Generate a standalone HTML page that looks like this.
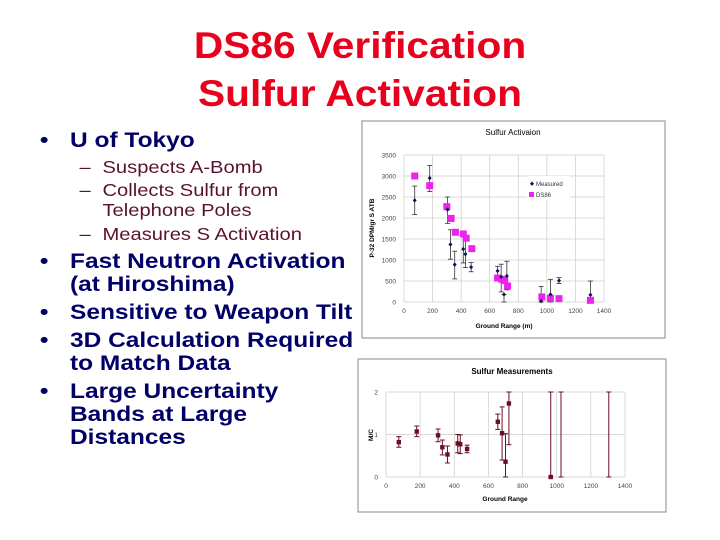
<!DOCTYPE html>
<html><head><meta charset="utf-8"><style>
html,body{margin:0;padding:0;background:#fff;}
svg{display:block;font-family:"Liberation Sans",Arial,sans-serif;}
</style></head><body>
<svg id="page" width="720" height="540" viewBox="0 0 720 540">
<g font-weight="bold" font-size="37" fill="#e8001c" text-anchor="middle" transform="scale(1.1 1)">
<text x="327.3" y="58">DS86 Verification</text>
<text x="327.3" y="106">Sulfur Activation</text>
</g>
<g font-weight="bold" font-size="21.5" fill="#000066" transform="scale(1.14 1)">
<text x="35" y="147">•</text><text x="61.4" y="147">U of Tokyo</text>
<text x="35" y="268">•</text><text x="61.4" y="268">Fast Neutron Activation</text>
<text x="61.4" y="291">(at Hiroshima)</text>
<text x="35" y="319">•</text><text x="61.4" y="319">Sensitive to Weapon Tilt</text>
<text x="35" y="347">•</text><text x="61.4" y="347">3D Calculation Required</text>
<text x="61.4" y="370">to Match Data</text>
<text x="35" y="398">•</text><text x="61.4" y="398">Large Uncertainty</text>
<text x="61.4" y="421">Bands at Large</text>
<text x="61.4" y="444">Distances</text>
</g>
<g font-size="18" fill="#5a1030" transform="scale(1.12 1)">
<text x="71" y="173">–</text><text x="91.5" y="173">Suspects A-Bomb</text>
<text x="71" y="196">–</text><text x="91.5" y="196">Collects Sulfur from</text>
<text x="91.5" y="216">Telephone Poles</text>
<text x="71" y="240">–</text><text x="91.5" y="240">Measures S Activation</text>
</g>
<g id="c1"></g>
<g id="c2"></g>
</svg>
<script>
// Chart 1 data
const c1X = [75,180,305,325,355,415,430,470,655,680,700,720,960,1025,1085,1305];
const c1Meas = [2420,2950,2200,1370,890,1260,1140,830,740,600,180,620,20,180,510,170];
const c1Lo = [2080,2630,1870,1020,550,930,820,720,640,240,0,290,0,0,440,0];
const c1Hi = [2760,3250,2500,1720,1210,1610,1460,940,850,900,180,970,370,540,580,500];
const c1DsX = [75,180,300,330,360,415,435,475,655,685,705,725,965,1025,1085,1305];
const c1Ds = [3000,2770,2270,1990,1660,1620,1520,1270,570,540,510,380,120,90,80,40];
const c1XTicks = [0,200,400,600,800,1000,1200,1400];
const c1YTicks = [0,500,1000,1500,2000,2500,3000,3500];
// Chart 2 data
const c2X = [75,180,305,330,360,420,435,475,655,680,700,720,965,1025,1305];
const c2Val = [0.82,1.07,0.98,0.70,0.53,0.79,0.77,0.66,1.30,1.03,0.36,1.73,0,null,null];
const c2Lo = [0.70,0.95,0.83,0.52,0.33,0.57,0.55,0.57,1.12,0.40,0,0.76,0,0,0];
const c2Hi = [0.95,1.20,1.13,0.87,0.73,1.00,0.99,0.75,1.48,1.65,1.02,2,2,2,2];
const c2XTicks = [0,200,400,600,800,1000,1200,1400];
const c2YTicks = [0,1,2];

const NS="http://www.w3.org/2000/svg";
function mk(p,t,a){const e=document.createElementNS(NS,t);for(const k in a)e.setAttribute(k,a[k]);p.appendChild(e);return e;}

// ---- Chart 1
(function(){
const g=document.getElementById('c1');
const X0=404,X1=604,Y0=302,Y1=155;
const sx=v=>X0+(v/1400)*(X1-X0), sy=v=>Y0-(v/3500)*(Y0-Y1);
let r=mk(g,'rect',{x:362,y:121,width:303,height:217,fill:'#fff',stroke:'#888','stroke-width':1});


let t=mk(g,'text',{x:513,y:135,'font-size':8,'text-anchor':'middle',fill:'#000'});t.textContent='Sulfur Activaion';


c1YTicks.forEach(v=>{const l=mk(g,'line',{x1:X0,x2:X1,y1:sy(v),y2:sy(v),stroke:'#ccc','stroke-width':0.7});


const tx=mk(g,'text',{x:X0-8,y:sy(v)+2.5,'font-size':6.5,'text-anchor':'end',fill:'#444'});tx.textContent=v;

});
c1XTicks.forEach(v=>{const l=mk(g,'line',{x1:sx(v),x2:sx(v),y1:Y0,y2:Y1,stroke:'#ccc','stroke-width':0.7});


const tx=mk(g,'text',{x:sx(v),y:Y0+11,'font-size':6.5,'text-anchor':'middle',fill:'#444'});tx.textContent=v;

});
t=mk(g,'text',{x:504,y:328,'font-size':6.5,'font-weight':'bold','text-anchor':'middle'});t.textContent='Ground Range (m)';


t=mk(g,'text',{x:374,y:228,'font-size':6.5,'font-weight':'bold','text-anchor':'middle',transform:'rotate(-90 374 228)'});t.textContent='P-32 DPM/gr S ATB';


c1X.forEach((x,i)=>{const e=mk(g,'g',{stroke:'#333','stroke-width':0.8});


mk(e,'line',{x1:sx(x),x2:sx(x),y1:sy(c1Lo[i]),y2:sy(c1Hi[i])});
mk(e,'line',{x1:sx(x)-2.5,x2:sx(x)+2.5,y1:sy(c1Lo[i]),y2:sy(c1Lo[i])});
mk(e,'line',{x1:sx(x)-2.5,x2:sx(x)+2.5,y1:sy(c1Hi[i]),y2:sy(c1Hi[i])});});
c1DsX.forEach((x,i)=>{const s=mk(g,'rect',{x:sx(x)-3.5,y:sy(c1Ds[i])-3.5,width:7,height:7,fill:'#ee22ee'});

});
c1X.forEach((x,i)=>{const p=mk(g,'path',{d:`M${sx(x)} ${sy(c1Meas[i])-2.2}l2 2.2l-2 2.2l-2 -2.2z`,fill:'#101050'});

});
const lg=mk(g,'g',{});


mk(lg,'rect',{x:527,y:176,width:43,height:24,fill:'#fff'});
mk(lg,'path',{d:'M532 181.5l2 2.2l-2 2.2l-2 -2.2z',fill:'#101050'});
let lt=mk(lg,'text',{x:536,y:186,'font-size':6,fill:'#333'});lt.textContent='Measured';
mk(lg,'rect',{x:529,y:192,width:5,height:5,fill:'#ee22ee'});
lt=mk(lg,'text',{x:536,y:197,'font-size':6,fill:'#333'});lt.textContent='DS86';
})();

// ---- Chart 2
(function(){
const g=document.getElementById('c2');
const X0=386,X1=625,Y0=477,Y1=392;
const sx=v=>X0+(v/1400)*(X1-X0), sy=v=>Y0-(v/2)*(Y0-Y1);
let r=mk(g,'rect',{x:358,y:359,width:308,height:153,fill:'#fff',stroke:'#888','stroke-width':1});


let t=mk(g,'text',{x:512,y:374,'font-size':8,'font-weight':'bold','text-anchor':'middle'});t.textContent='Sulfur Measurements';


c2YTicks.forEach(v=>{const l=mk(g,'line',{x1:X0,x2:X1,y1:sy(v),y2:sy(v),stroke:'#ccc','stroke-width':0.7});


const tx=mk(g,'text',{x:X0-8,y:sy(v)+2.5,'font-size':6.5,'text-anchor':'end',fill:'#444'});tx.textContent=v;

});
c2XTicks.forEach(v=>{const l=mk(g,'line',{x1:sx(v),x2:sx(v),y1:Y0,y2:Y1,stroke:'#ccc','stroke-width':0.7});


const tx=mk(g,'text',{x:sx(v),y:Y0+11,'font-size':6.5,'text-anchor':'middle',fill:'#444'});tx.textContent=v;

});
t=mk(g,'text',{x:505,y:501,'font-size':6.5,'font-weight':'bold','text-anchor':'middle'});t.textContent='Ground Range';


t=mk(g,'text',{x:373,y:435,'font-size':6.5,'font-weight':'bold','text-anchor':'middle',transform:'rotate(-90 373 435)'});t.textContent='M/C';


c2X.forEach((x,i)=>{const e=mk(g,'g',{stroke:'#6a0f25','stroke-width':1});


mk(e,'line',{x1:sx(x),x2:sx(x),y1:sy(c2Lo[i]),y2:sy(c2Hi[i])});
mk(e,'line',{x1:sx(x)-2.5,x2:sx(x)+2.5,y1:sy(c2Lo[i]),y2:sy(c2Lo[i])});
mk(e,'line',{x1:sx(x)-2.5,x2:sx(x)+2.5,y1:sy(c2Hi[i]),y2:sy(c2Hi[i])});
if(c2Val[i]!==null){const s=mk(g,'rect',{x:sx(x)-2.2,y:sy(c2Val[i])-2.2,width:4.4,height:4.4,fill:'#6a0f25'});

}});
})();
</script>
</body></html>
